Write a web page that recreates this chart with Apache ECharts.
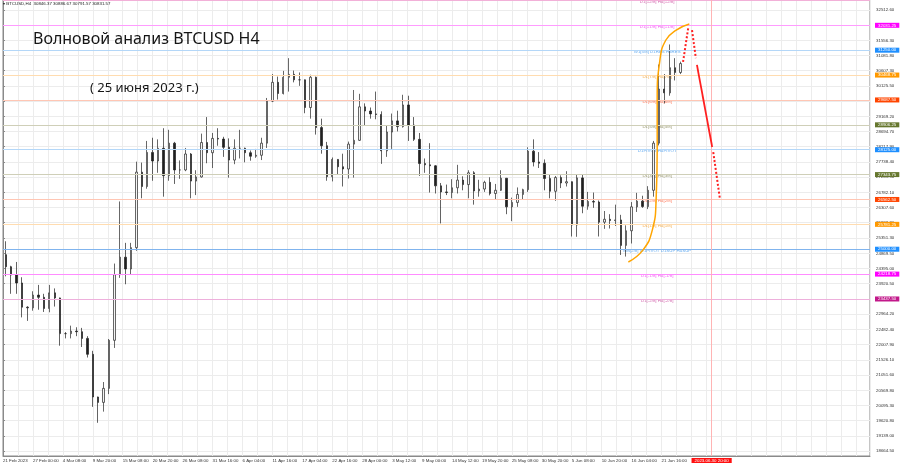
<!DOCTYPE html>
<html><head><meta charset="utf-8">
<script src="https://cdn.jsdelivr.net/npm/echarts@6/dist/echarts.min.js"></script>
<style>html,body{margin:0;padding:0;background:#fff}#c{width:900px;height:468px}</style>
</head><body><div id="c"></div>
<script>
// Daily candles, 21 Feb 2023 .. 25 Jun 2023 (index = day offset from 21 Feb 00:00)
const candleOpen = [24830,24450,24190,23940,23180,23160,23560,23490,23140,23630,23470,22350,22350,22430,22410,22200,21700,20360,20190,20630,22140,24200,24750,24380,25050,27420,26970,28040,27770,28170,27310,28330,27490,27490,27990,27140,27270,28350,28030,28480,28460,28200,27800,28170,28170,28030,27920,27950,28330,29650,30240,29890,30400,30490,30320,30320,29450,30400,28820,28250,27280,27820,27590,27520,28300,28420,29470,29340,29250,29230,28090,28680,29030,28850,29530,28900,28450,27690,27650,27620,26990,26800,26780,26930,27170,27030,27400,26830,26890,27100,26750,26850,27230,26330,26470,26720,26870,28080,27740,27700,27220,26820,27250,27080,27120,25760,27240,26350,26500,26480,25850,25940,25900,25920,25120,25580,26330,26510,26340,26850,28330,30030,29910,30700,30550];
const candleHigh = [25250,24480,24600,24120,23210,23680,23880,23600,23880,23770,23480,22400,22600,22550,22530,22270,21810,20370,20830,22180,24550,26500,25200,25200,27750,27720,28400,28500,28450,28800,28750,28370,27790,28180,28020,27480,28630,29150,28650,28800,28530,28480,28450,28750,28190,28100,28150,28500,29750,30500,30420,30600,31000,30610,30550,30330,30480,30420,29100,28370,27880,27830,28000,28380,30000,29880,29580,29450,29950,29330,28880,29260,29350,29850,29820,29150,28650,27850,28330,27640,27080,27030,27200,27650,27290,27480,27450,27180,27150,27260,27050,27480,27230,26620,26940,26900,28200,28450,28050,27820,27350,27300,27320,27450,27130,27350,27350,26800,26780,26530,26200,26100,26400,26080,25750,26480,26770,26680,26980,28400,30800,30500,31430,31000,30890];
const candleLow = [24150,23600,23600,22860,22750,23070,23100,23030,23020,23200,21970,22200,22200,22270,21930,21600,20050,19550,19900,20450,21900,24100,23900,24200,24950,26600,26900,27150,27400,26650,27150,27050,27210,27450,26600,26700,27250,27700,27550,28250,27900,27250,27670,27850,27730,27780,27870,27800,28180,29620,29700,29860,29950,30240,30130,29270,29100,28600,28000,27150,27130,27350,26970,27220,27250,28400,28900,29100,29080,27680,27900,28150,28700,28820,28400,28400,27300,27400,26780,26750,25810,26700,26600,26750,26850,26600,26400,26650,26800,26690,26550,26830,26100,25880,26330,26550,26800,27600,27550,26850,26600,26520,26920,26970,25400,25390,26130,26240,26300,25400,25640,25650,25730,24820,24770,25180,26170,26300,26260,26650,28260,29580,29820,30300,30500];
const candleClose = [24450,24190,23940,23180,23160,23560,23490,23140,23630,23470,22350,22350,22430,22410,22200,21700,20360,20190,20630,22140,24200,24750,24380,25050,27420,26970,28040,27770,28170,27310,28330,27490,27490,27990,27140,27270,28350,28030,28480,28460,28200,27800,28170,28170,28030,27920,27950,28330,29650,30240,29890,30400,30490,30320,30320,29450,30400,28820,28250,27280,27820,27590,27520,28300,28420,29470,29340,29250,29230,28090,28680,29030,28850,29530,28900,28450,27690,27650,27620,26990,26800,26780,26930,27170,27030,27400,26830,26890,27100,26750,26850,27230,26330,26470,26720,26870,28080,27740,27700,27220,26820,27250,27080,27120,25760,27240,26350,26500,26480,25850,25940,25900,25920,25120,25580,26330,26510,26340,26850,28330,30030,29910,30700,30550,30830];

const xTickLabels = ['21 Feb 2023','27 Feb 00:00','4 Mar 08:00','9 Mar 20:00','15 Mar 08:00','20 Mar 20:00','26 Mar 08:00','31 Mar 16:00','6 Apr 04:00','11 Apr 16:00','17 Apr 04:00','22 Apr 16:00','28 Apr 00:00','3 May 12:00','9 May 00:00','14 May 12:00','19 May 20:00','25 May 08:00','30 May 20:00','5 Jun 08:00','10 Jun 20:00','16 Jun 04:00','21 Jun 16:00'];
const yTickLabels = ['32512.60','32035.10','31556.30','31081.80','30607.30','30125.50','29647.50','29169.20','28694.70','28217.90','27738.40','27259.90','26782.10','26307.60','25832.80','25351.30','24869.50','24395.00','23920.50','23439.70','22964.20','22482.40','22007.90','21526.10','21051.60','20569.80','20095.30','19620.80','19139.00','18664.50'];

const levelValues = [32812.5,32031.25,31250,30468.75,29687.5,28906.25,28125,27343.75,26562.5,25781.25,25000,24218.75,23437.5];
const levelNames = ['D1[+2/8] H4[+2/8]','D1[+1/8] H4[+1/8]','W1[5/8] D1RES H4RES','D1[7/8] H4[7/8]','D1[6/8] H4[6/8]','D1[5/8] H4[5/8]','D1PIVOT H4PIVOT','D1[3/8] H4[3/8]','D1[2/8] H4[2/8]','D1[1/8] H4[1/8]','MN[2/8] W1PIVOT D1SUP H4SUP','D1[-1/8] H4[-1/8]','D1[-2/8] H4[-2/8]'];
const levelTags = ['','32031.25','31250.00','30468.75','29687.50','28906.25','28125.00','27343.75','26562.50','25781.25','25000.00','24218.75','23437.50'];
const currentPrice = 30831.57;
const headerText = '\u25BE BTCUSD,H4  30846.37 30886.67 30791.57 30831.57';

// orange arc (day, price)
const arcDay =   [114.9,117.6,119.3,120.0,120.2,120.2,120.7,121.8,123.7,126.1];
const arcPrice = [24600,24980,25600,26550,28110,29690,30940,31570,31880,32070];
// red forecast arrows
const arrowFromDay =   [124.95,126.6,127.5,130.5];
const arrowFromPrice = [30880,31880,30790,28050];
const arrowToDay =     [125.9,127.3,130.3,131.7];
const arrowToPrice =   [31950,31000,28210,26610];
const arrowDotted =    [true,true,false,true];
const futureLineDay = 130.2;
const futureLineLabel = '2023.06.30 20:00';

// styles
const tagColors  = ['#cc3399','#ff00ff','#1e8fff','#ff9900','#ff4500','#66772e','#1e8fff','#66772e','#ff4500','#ff9900','#1e8fff','#ff00ff','#c2188a'];
const lineColors = ['#f2b0d8','#ff9cff','#b4d7f8','#ffdcb0','#ffc6b4','#cfcfb8','#b4d7f8','#cfcfb8','#ffc6b4','#ffdcb0','#80b4ee','#ff8cff','#eeb0dc'];
const textColors = ['#c8409a','#f02cf0','#3a95ee','#f09a20','#ff5a35','#7d7d48','#3a95ee','#7d7d48','#ff5a35','#f09a20','#3a95ee','#f02cf0','#c8409a'];

const FS = 4.4, FF = 'Liberation Sans, Arial, sans-serif';
const candles = candleOpen.map((o,i)=>[i+0.5,o,candleClose[i],candleLow[i],candleHigh[i]]);
const yTickValues = yTickLabels.map(Number);

const levelLines = levelValues.map((v,i)=>({
  yAxis: v,
  lineStyle: {color: lineColors[i], width: 1, type: 'solid'},
  label: levelTags[i] ? {show:true, position:'end', formatter: levelTags[i], backgroundColor: tagColors[i], color:'#fff', fontSize:FS, fontFamily:FF, padding:[1,3,0,3], distance:5} : {show:false}
}));
levelLines.push({yAxis: currentPrice, lineStyle:{opacity:0}, label:{show:true, position:'end', formatter: currentPrice.toFixed(2), backgroundColor:'#000', color:'#fff', fontSize:FS, fontFamily:FF, padding:[1,3,0,3], distance:5}});

const chart = echarts.init(document.getElementById('c'), null, {renderer:'canvas'});
chart.setOption({
  animation:false,
  backgroundColor:'#fff',
  title:[
    {text: headerText, left:3, top:2, padding:0, textStyle:{fontSize:FS, fontFamily:FF, color:'#222', fontWeight:'normal'}},
    {text:'Волновой анализ BTCUSD H4', left:33, top:31, padding:0, textStyle:{fontSize:16, fontFamily:'Noto Sans', color:'#151515', fontWeight:'normal'}},
    {text:'( 25 июня 2023 г.)', left:90, top:82, padding:0, textStyle:{fontSize:13, fontFamily:'Noto Sans', color:'#151515', fontWeight:'normal'}}
  ],
  grid:{left:2, right:30, top:0, bottom:12, show:true, borderColor:'#8a8a8a', borderWidth:1},
  xAxis:{type:'value', min:0, max:159.3, interval:2.75,
    axisLine:{show:true, lineStyle:{color:'#8a8a8a'}}, axisTick:{show:false},
    splitLine:{show:true, lineStyle:{color:'#ececec', width:1}},
    axisLabel:{show:true, align:'left', margin:3, fontSize:FS, fontFamily:FF, color:'#333', showMaxLabel:false,
      formatter:(v)=>{const k=Math.round(v/2.75); return (k%2===0 && k/2<xTickLabels.length)? xTickLabels[k/2] : '';}}},
  yAxis:{type:'value', position:'right', min:18507, max:32826, scale:true,
    axisLine:{show:true, lineStyle:{color:'#8a8a8a'}},
    axisTick:{show:true, length:2, customValues:yTickValues, lineStyle:{color:'#8a8a8a'}},
    splitLine:{show:true, lineStyle:{color:'#ececec', width:1}},
    axisLabel:{show:true, margin:6, fontSize:FS, fontFamily:FF, color:'#333', customValues:yTickValues,
      formatter:(v)=>{const i=yTickValues.indexOf(v); return i>=0? yTickLabels[i] : v.toFixed(2);}}},
  series:[
    {type:'line', data:[], silent:true, z:1,
      markLine:{silent:true, symbol:'none', animation:false, data: levelLines}},
    {type:'line', data:[], silent:true, z:1,
      markLine:{silent:true, symbol:'none', animation:false, data:[
        {xAxis: futureLineDay, lineStyle:{color:'#ffb4b4', width:1, type:'solid'},
         label:{show:true, position:'start', formatter: futureLineLabel, backgroundColor:'#ff1010', color:'#fff', fontSize:FS, fontFamily:FF, padding:[1,3,0,3], distance:2}}]}},
    {type:'scatter', symbolSize:0, silent:true, z:3,
      data: levelValues.map((v,i)=>({value:[120.2, v], label:{color: textColors[i]}})),
      label:{show:true, position:'inside', offset:[0,1.5], fontSize:FS, fontFamily:FF,
        formatter:(p)=>levelNames[p.dataIndex]}},
    {type:'candlestick', data:candles, barWidth:1.9, z:4,
      itemStyle:{color:'#f4f4f4', color0:'#202020', borderColor:'#262626', borderColor0:'#202020', borderWidth:0.7}},
    {type:'line', data: arcDay.map((d,i)=>[d, arcPrice[i]]), smooth:0.5, symbol:'none', silent:true, z:5,
      lineStyle:{color:'#ffa500', width:1.5}},
    {type:'line', data:[], silent:true, z:6,
      markLine:{silent:true, symbol:['none','triangle'], symbolSize:[0,6], animation:false,
        data: arrowFromDay.map((d,i)=>[
          {coord:[d, arrowFromPrice[i]], lineStyle:{color:'#ff2020', width: arrowDotted[i]?2:1.8, type: arrowDotted[i]?[2,2]:'solid'}, itemStyle:{color:'#ff2020'}},
          {coord:[arrowToDay[i], arrowToPrice[i]]}
        ]), label:{show:false}}}
  ]
});
</script></body></html>
